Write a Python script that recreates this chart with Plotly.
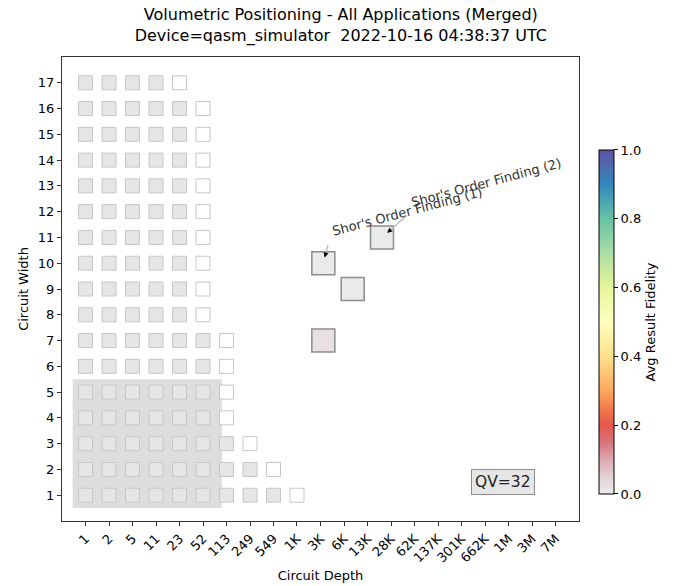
import math
import plotly.graph_objects as go

FONT = "DejaVu Sans"

# x axis: circuit depth on a log scale (base 2.2 steps)
depth_ticks = [1, 2.2, 4.84, 10.65, 23.43, 51.54, 113.4, 249.4, 548.8, 1207,
               2656, 5843, 12855, 28281, 62218, 136880, 301136, 662499,
               1457498, 3206496, 7054291]
depth_labels = ["1", "2", "5", "11", "23", "52", "113", "249", "549", "1K",
                "3K", "6K", "13K", "28K", "62K", "137K", "301K", "662K",
                "1M", "3M", "7M"]

# y axis: circuit width
widths = list(range(1, 18))

# number of depth cells that fit at each width (widths 1..17)
cells_per_width = [9, 8, 7, 6, 6, 6, 6, 5, 5, 5, 5, 5, 5, 5, 5, 5, 4]

# application results
app_depth = [2920, 2920, 7820, 20900]
app_width = [7, 10, 9, 11]
app_fidelity = [0.02, 0.0, 0.0, 0.0]
app_names = ["", "Shor's Order Finding (1)", "", "Shor's Order Finding (2)"]

# quantum volume region
qv_value = 32
qv_width = 5
qv_depth_lo = 0.65
qv_depth_hi = 97

# fidelity colour map: grey fading into Spectral
fid_scale = [
    [0.0, "#eaeaea"], [0.05, "#e4d2d5"], [0.1, "#dca8b0"], [0.15, "#d8747c"],
    [0.2, "#e5574b"], [0.25, "#f47c4c"], [0.3, "#fca85e"], [0.4, "#fee08b"],
    [0.5, "#ffffbf"], [0.6, "#e6f598"], [0.7, "#abdda4"], [0.8, "#66c2a5"],
    [0.9, "#3288bd"], [0.97, "#5463aa"], [1.0, "#5e4fa2"],
]

# background grid of cells
gx, gy, wx, wy = [], [], [], []
for w, n in zip(widths, cells_per_width):
    for i in range(n):
        gx.append(depth_ticks[i])
        gy.append(w)
    wx.append(depth_ticks[n])
    wy.append(w)

fig = go.Figure()

fig.add_shape(type="rect", xref="x", yref="y",
              x0=qv_depth_lo, x1=qv_depth_hi, y0=0.5, y1=qv_width + 0.5,
              fillcolor="#dddddd", line=dict(width=0), layer="below")

fig.add_trace(go.Scatter(
    x=gx, y=gy, mode="markers", hoverinfo="skip", showlegend=False,
    marker=dict(symbol="square", size=14, color="#e5e5e5",
                line=dict(color="#c6c6c6", width=1))))
fig.add_trace(go.Scatter(
    x=wx, y=wy, mode="markers", hoverinfo="skip", showlegend=False,
    marker=dict(symbol="square", size=14, color="#ffffff",
                line=dict(color="#c6c6c6", width=1))))

fig.add_trace(go.Scatter(
    x=app_depth, y=app_width, mode="markers", showlegend=False,
    text=app_names,
    marker=dict(symbol="square", size=23, color=app_fidelity,
                colorscale=fid_scale, cmin=0, cmax=1,
                line=dict(color="#8c8c8c", width=1.5),
                colorbar=dict(
                    x=1.0387, xanchor="left", xpad=0,
                    y=0.4289, yanchor="middle", ypad=0,
                    thickness=15, len=344, lenmode="pixels",
                    outlinewidth=1, outlinecolor="#000000",
                    ticks="outside", ticklen=4, tickcolor="#000000",
                    tickvals=[0, 0.2, 0.4, 0.6, 0.8, 1.0],
                    ticktext=["0.0", "0.2", "0.4", "0.6", "0.8", "1.0"],
                    tickfont=dict(family=FONT, size=13, color="#000000"),
                    title=dict(text="Avg Result Fidelity", side="right",
                               font=dict(family=FONT, size=13,
                                         color="#000000")),
                ))))

# labels for named applications (annotation x on a log axis is log10)
# (text shift x, text shift y, arrow tail x, arrow tail y, standoff)
label_offsets = {1: (84, 52, 5, -20, 6), 3: (105, 55, 25, -22, 7)}
for k, (xs, ys, ax, ay, so) in label_offsets.items():
    lx = math.log10(app_depth[k])
    fig.add_annotation(x=lx, y=app_width[k], xref="x", yref="y",
                       text="", showarrow=True, ax=ax, ay=ay,
                       arrowhead=0, arrowwidth=1.5, arrowcolor="#c0c0c0",
                       standoff=so)
    head = (so + 6) / math.hypot(ax, ay)
    fig.add_annotation(x=lx, y=app_width[k], xref="x", yref="y",
                       text="", showarrow=True, ax=ax * head, ay=ay * head,
                       arrowhead=2, arrowsize=1, arrowwidth=1,
                       arrowcolor="#000000", standoff=so)
    fig.add_annotation(x=lx, y=app_width[k], xref="x", yref="y",
                       text=app_names[k], showarrow=False, textangle=-15,
                       xshift=xs, yshift=ys,
                       font=dict(family=FONT, size=13, color="#333333"))

fig.add_annotation(x=0.853, y=0.084, xref="paper", yref="paper",
                   xanchor="center", yanchor="middle",
                   text=f"QV={qv_value}", showarrow=False,
                   bgcolor="#e6e6e6", bordercolor="#8c8c8c", borderwidth=1,
                   borderpad=3,
                   font=dict(family=FONT, size=15.5, color="#222222"))

axis_common = dict(showgrid=False, zeroline=False, showline=True,
                   linecolor="#333333", linewidth=1, mirror=True,
                   ticks="outside", ticklen=4, tickcolor="#333333",
                   automargin=False,
                   tickfont=dict(family=FONT, size=13, color="#000000"))

fig.update_xaxes(type="log", range=[-0.3424, 7.1908],
                 tickvals=depth_ticks, ticktext=depth_labels, tickangle=-45,
                 title=dict(text="Circuit Depth", standoff=6,
                            font=dict(family=FONT, size=13, color="#000000")),
                 **axis_common)
fig.update_yaxes(range=[0, 18], tickvals=widths,
                 title=dict(text="Circuit Width", standoff=6,
                            font=dict(family=FONT, size=13, color="#000000")),
                 **axis_common)

fig.update_layout(
    width=697, height=586,
    margin=dict(l=62, r=118, t=57, b=65),
    plot_bgcolor="#ffffff", paper_bgcolor="#ffffff",
    title=dict(text="Volumetric Positioning - All Applications (Merged)<br>"
                    "Device=qasm_simulator  2022-10-16 04:38:37 UTC",
               x=0.489, xref="container", xanchor="center",
               y=1 - 20 / 586, yref="container", yanchor="middle",
               automargin=False,
               font=dict(family=FONT, size=16, color="#000000")),
    font=dict(family=FONT),
)

fig.write_html("out.html")
